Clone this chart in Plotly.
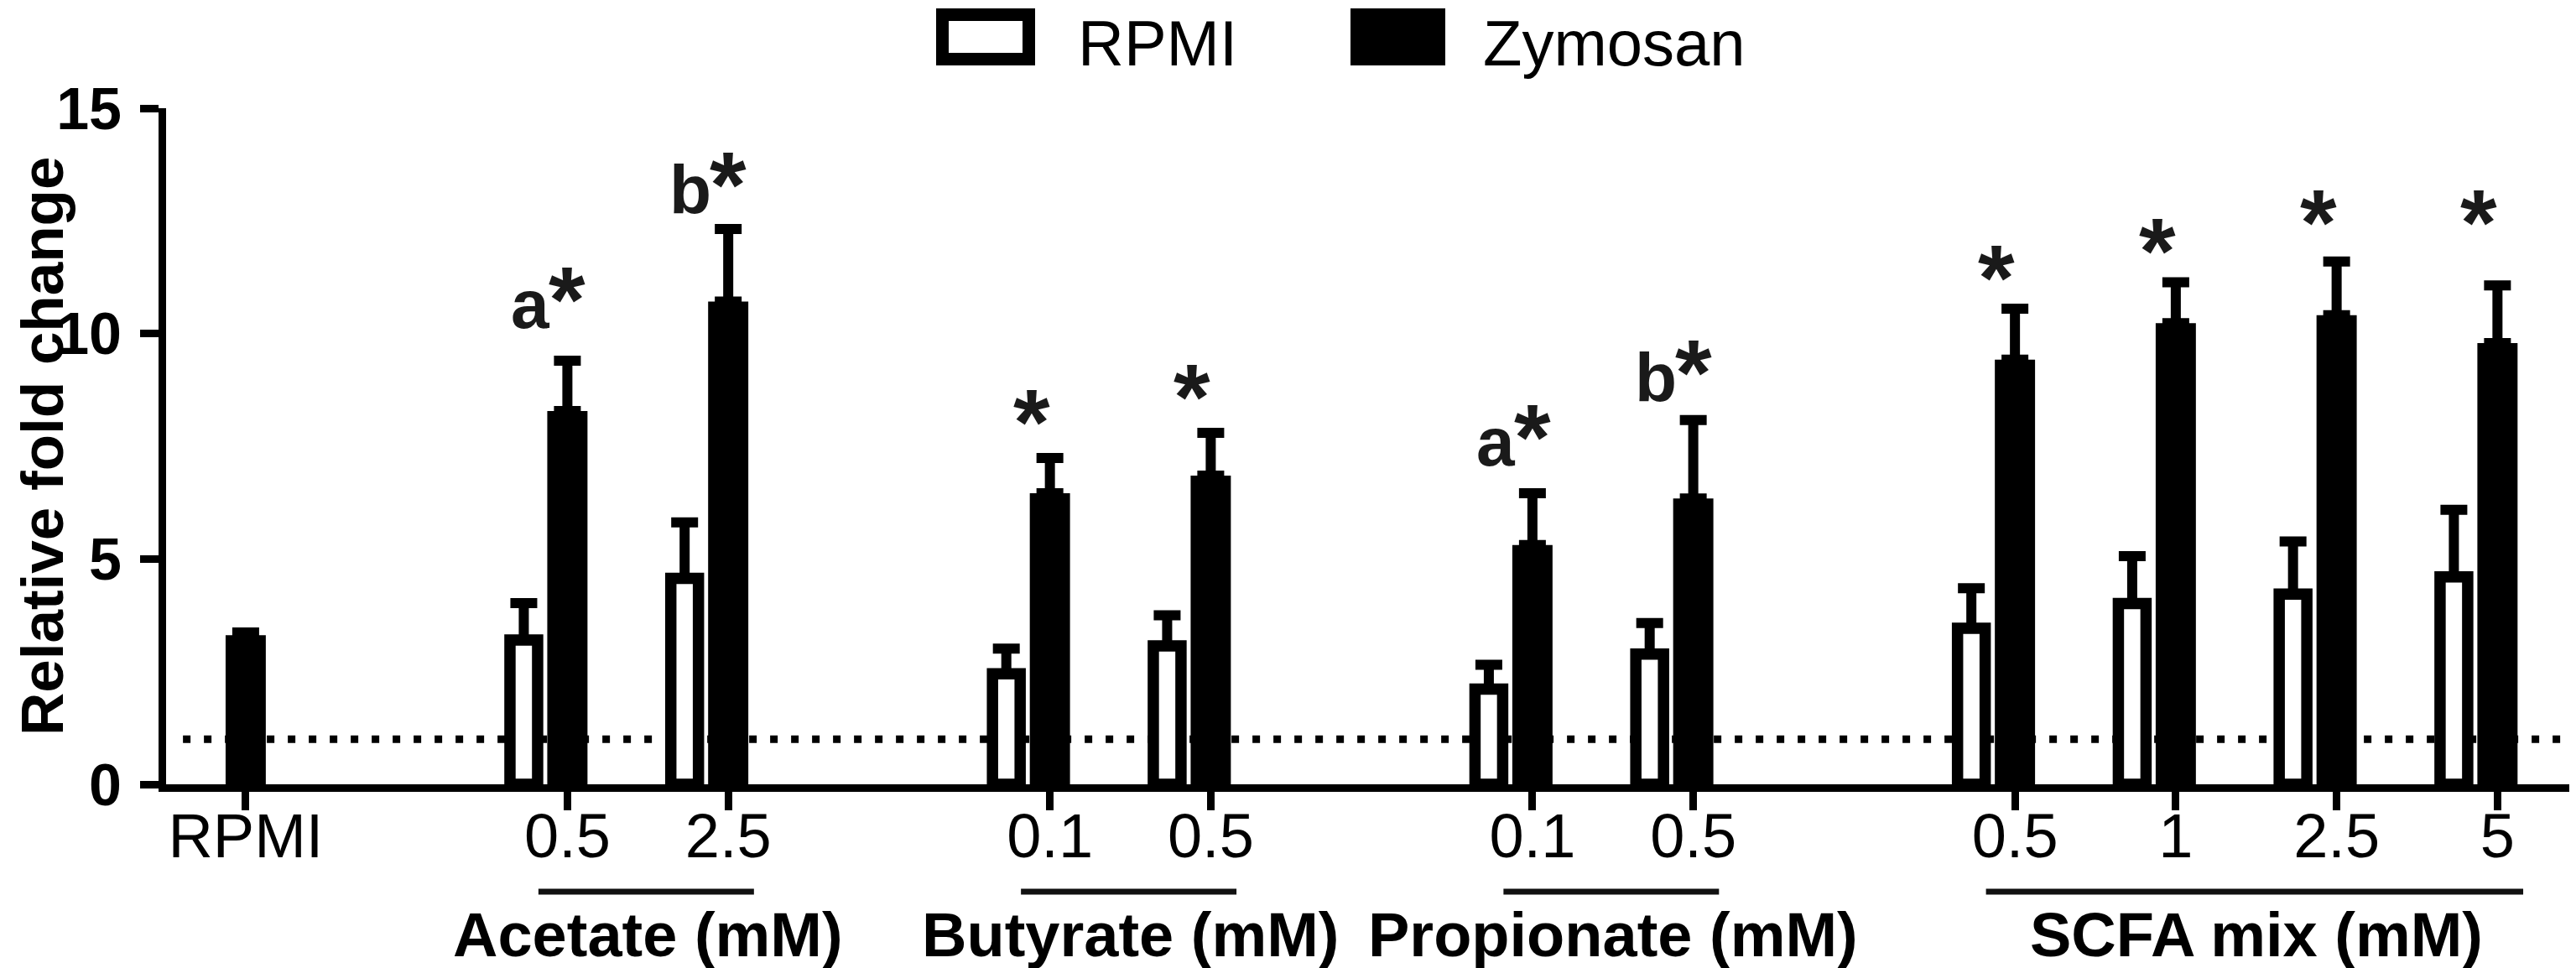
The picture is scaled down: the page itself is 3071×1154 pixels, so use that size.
"""
Fold change of RPMI vs Zymosan stimulated cells after SCFA treatment
(grouped bars, mean + SEM, Prism-style layout) rebuilt with Plotly.
"""

import plotly.graph_objects as go

# ── data ────────────────────────────────────────────────────────────────
GROUP_TITLES = ["", "Acetate (mM)", "Butyrate (mM)", "Propionate (mM)", "SCFA mix (mM)"]
GROUP_DOSES = [["RPMI"], ["0.5", "2.5"], ["0.1", "0.5"], ["0.1", "0.5"],
               ["0.5", "1", "2.5", "5"]]

rpmi_mean = [None, 3.20, 4.57, 2.45, 3.07, 2.11, 2.89, 3.46, 4.01, 4.22, 4.60]
rpmi_sem = [None, 0.82, 1.24, 0.56, 0.68, 0.54, 0.69, 0.89, 1.05, 1.17, 1.49]
zym_mean = [3.31, 8.28, 10.71, 6.46, 6.85, 5.31, 6.34, 9.42, 10.23, 10.41, 9.79]
zym_sem = [0.06, 1.12, 1.61, 0.78, 0.95, 1.15, 1.74, 1.13, 0.91, 1.19, 1.28]

# significance marks: letter in front of the star, height of the star
sig_letter = ["", "a", "b", "", "", "a", "b", "", "", "", ""]
sig_height = [None, 11.24, 13.79, 8.52, 9.07, 8.18, 9.62, 11.71, 12.32, 12.94, 12.94]

BASELINE = 1.0  # dotted reference line

# ── style ────────────────────────────────────────────────────────────────
W, H = 3071, 1154
M_L, M_R, M_T, M_B = 190, 0, 121, 227
FONT = "Liberation Sans, Arial, sans-serif"
BLACK = "#000000"
PAIR_OFFSET = 0.271     # RPMI bar sits left of the Zymosan bar
W_ZYM, W_RPMI = 0.25, 0.172


def px_to_paper(x_px=None, y_px=None):
    """Pixel of the full image -> paper coordinates."""
    pw, ph = W - M_L - M_R, H - M_T - M_B
    xs = None if x_px is None else (x_px - M_L) / pw
    ys = None if y_px is None else (H - M_B - y_px) / ph
    return xs, ys


# slot positions: one step inside a group, two steps between groups
positions, tick_text, group_span = [], [], []
pos = 0
for gi, doses in enumerate(GROUP_DOSES):
    if gi > 0:
        pos += 1
    first = pos
    for d in doses:
        positions.append(pos)
        tick_text.append(d)
        pos += 1
    group_span.append((first, pos - 1))

rpmi_x = [p - PAIR_OFFSET for p in positions]

fig = go.Figure()
fig.add_trace(go.Bar(
    x=rpmi_x, y=rpmi_mean, name="RPMI", width=W_RPMI,
    marker=dict(color="white", line=dict(color=BLACK, width=13.5)),
    error_y=dict(type="data", array=rpmi_sem, arrayminus=[0] * len(rpmi_sem),
                 symmetric=False, color=BLACK, thickness=12, width=16),
    showlegend=False))
fig.add_trace(go.Bar(
    x=positions, y=zym_mean, name="Zymosan", width=W_ZYM,
    marker=dict(color=BLACK, line=dict(width=0)),
    error_y=dict(type="data", array=zym_sem, arrayminus=[0] * len(zym_sem),
                 symmetric=False, color=BLACK, thickness=12, width=16),
    showlegend=False))

shapes = []
# dotted line at fold change = 1
shapes.append(dict(type="line", xref="x", yref="y", layer="below",
                   x0=-0.39, x1=14.6, y0=BASELINE, y1=BASELINE,
                   line=dict(color=BLACK, width=9, dash="9px,16px")))

annotations = []
# y axis title as a rotated annotation (exact placement)
tx, _ = px_to_paper(x_px=42)
annotations.append(dict(text="Relative fold change", textangle=-90,
                        xref="paper", yref="paper", x=tx, y=0.5,
                        xanchor="center", yanchor="middle", showarrow=False,
                        borderpad=0,
                        font=dict(family=FONT, size=71, color=BLACK,
                                  weight="bold")))

# group underlines + titles
_, y_line = px_to_paper(y_px=1055)
_, y_title = px_to_paper(y_px=1106)
for title, (a, b) in zip(GROUP_TITLES, group_span):
    if not title:
        continue
    shapes.append(dict(type="line", xref="x", yref="paper",
                       x0=a - 0.18, x1=b + 0.16, y0=y_line, y1=y_line,
                       line=dict(color="#111111", width=7)))
    annotations.append(dict(text=title, xref="x", yref="paper",
                            x=(a + b) / 2, y=y_title, showarrow=False,
                            xanchor="center", yanchor="middle",
                            font=dict(family=FONT, size=74, color=BLACK,
                                      weight="bold")))

# significance stars and letters
for p, letter, h in zip(positions, sig_letter, sig_height):
    if h is None:
        continue
    annotations.append(dict(text="*", xref="x", yref="y", x=p, y=h,
                            showarrow=False, xanchor="center", yanchor="middle",
                            xshift=0 if letter else -22, yshift=-26,
                            font=dict(family=FONT, size=112, color="#1a1a1a",
                                      weight="bold")))
    if letter:
        annotations.append(dict(text=letter, xref="x", yref="y", x=p, y=h,
                                showarrow=False, xanchor="right",
                                yanchor="middle", xshift=-18, yshift=-31,
                                font=dict(family=FONT, size=82, color="#1a1a1a",
                                          weight="bold")))

# legend drawn by hand (big Prism-style swatches)
x0, y0 = px_to_paper(1115.5, 9.5)
x1, y1 = px_to_paper(1218.5, 62.5)
shapes.append(dict(type="rect", xref="paper", yref="paper",
                   x0=x0, x1=x1, y0=y0, y1=y1, fillcolor="white",
                   line=dict(color=BLACK, width=15)))
x0, y0 = px_to_paper(1602, 2)
x1, y1 = px_to_paper(1715, 70)
shapes.append(dict(type="rect", xref="paper", yref="paper",
                   x0=x0, x1=x1, y0=y0, y1=y1, fillcolor=BLACK,
                   line=dict(width=0)))
for label, left in (("RPMI", 1276), ("Zymosan", 1759)):
    lx, ly = px_to_paper(left, 0)
    annotations.append(dict(text=label, xref="paper", yref="paper",
                            x=lx, y=ly, showarrow=False, xanchor="left",
                            yanchor="top", borderpad=0,
                            font=dict(family=FONT, size=76, color=BLACK)))

fig.update_layout(
    width=W, height=H,
    margin=dict(l=M_L, r=M_R, t=M_T, b=M_B),
    plot_bgcolor="white", paper_bgcolor="white",
    barmode="overlay",
    shapes=shapes, annotations=annotations,
    xaxis=dict(range=[-0.495, 14.53], showgrid=False, zeroline=False,
               showline=True, linewidth=9, linecolor=BLACK,
               ticks="outside", ticklen=22, tickwidth=9, tickcolor=BLACK,
               tickvals=positions, ticktext=tick_text, ticklabelstandoff=-33,
               tickfont=dict(family=FONT, size=74, color=BLACK)),
    yaxis=dict(range=[0, 15], showgrid=False, zeroline=False,
               showline=True, linewidth=9, linecolor=BLACK,
               ticks="outside", ticklen=22, tickwidth=9, tickcolor=BLACK,
               tickvals=[0, 5, 10, 15], ticklabelstandoff=8,
               tickfont=dict(family=FONT, size=70, color=BLACK, weight="bold")),
)

fig.write_html("out.html")
